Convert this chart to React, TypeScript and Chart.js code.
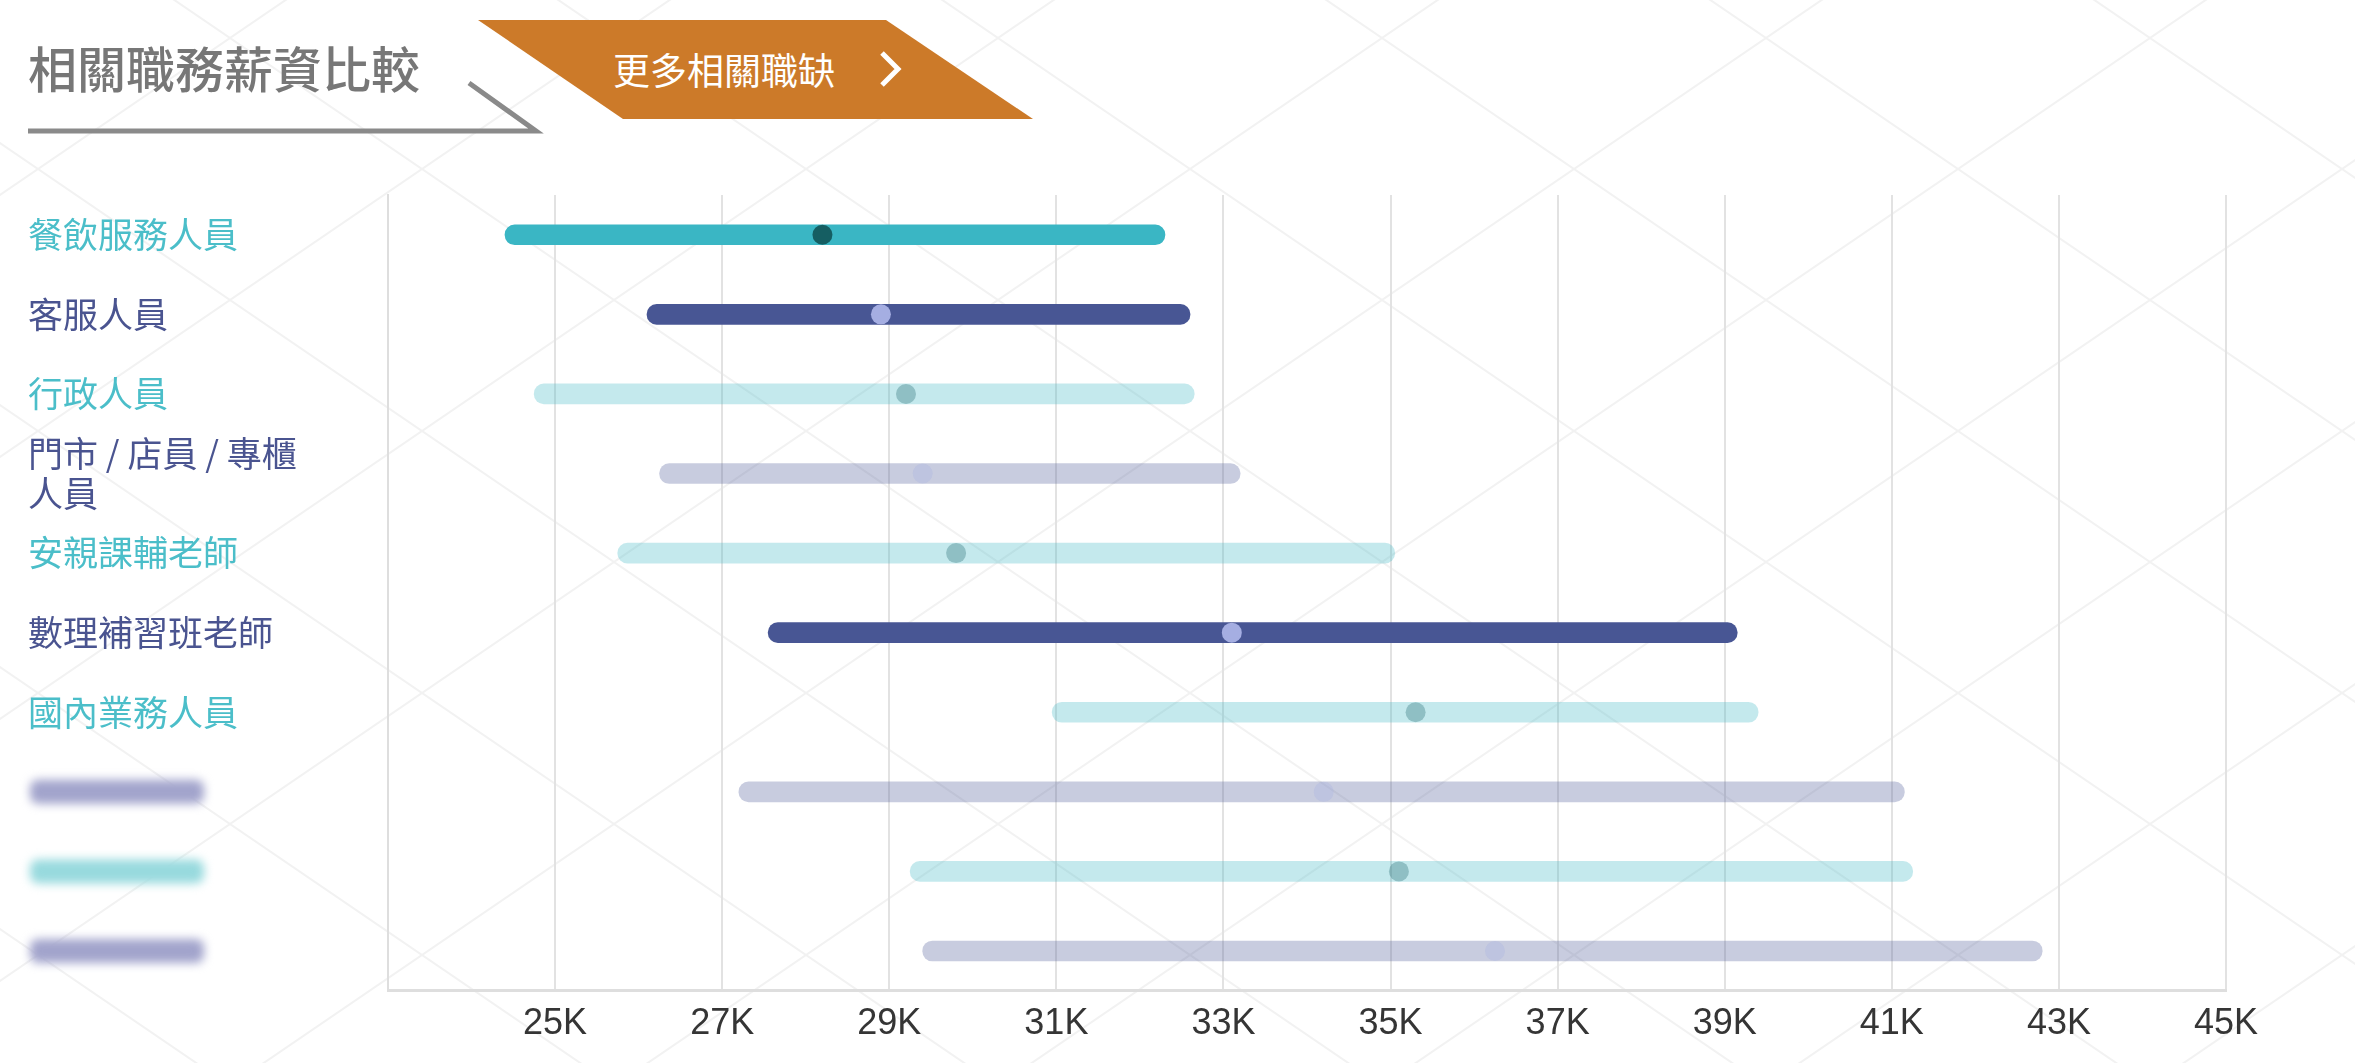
import React, { useEffect, useRef } from 'react';
import { Chart, registerables } from 'chart.js';

Chart.register(...registerables);

// ---- data ----
const categories: (string | string[])[] = [
  '餐飲服務人員',
  '客服人員',
  '行政人員',
  ['門市 / 店員 / 專櫃', '人員'],
  '安親課輔老師',
  '數理補習班老師',
  '國內業務人員',
  '',
  '',
  '',
];
const salaryMin = [24400, 26100, 24750, 26250, 25750, 27550, 30950, 27200, 29250, 29400];
const salaryMax = [32300, 32600, 32650, 33200, 35050, 39150, 39400, 41150, 41250, 42800];
const salaryMedian = [28200, 28900, 29200, 29400, 29800, 33100, 35300, 34200, 35100, 36250];
const highlighted = [true, true, false, false, false, true, false, false, false, false];
const blurredRows = [7, 8, 9];
const xTickValues = [25000, 27000, 29000, 31000, 33000, 35000, 37000, 39000, 41000, 43000, 45000];
const xMin = 23000;
const xMax = 45000;

// ---- styles ----
const CJK = "'Noto Sans CJK TC', 'Noto Sans CJK SC', sans-serif";
const LATIN = "'Liberation Sans', Arial, sans-serif";
const TEAL = [58, 182, 196];
const NAVY = [72, 86, 148];
const TEAL_DOT = [21, 94, 98];
const NAVY_DOT = [165, 174, 226];
const TEAL_TEXT = '#4bbec9';
const NAVY_TEXT = '#4a5490';

const rgba = (c: number[], a: number) => `rgba(${c[0]},${c[1]},${c[2]},${a})`;
const barColors = salaryMin.map((_, i) => rgba(i % 2 === 0 ? TEAL : NAVY, highlighted[i] ? 1 : 0.3));
const dotColors = salaryMin.map((_, i) => rgba(i % 2 === 0 ? TEAL_DOT : NAVY_DOT, highlighted[i] ? 1 : 0.3));

const blurPlugin = {
  id: 'blurLabels',
  afterDraw(chart: any) {
    const ctx = chart.ctx as CanvasRenderingContext2D;
    const y = chart.scales.y;
    ctx.save();
    blurredRows.forEach((r) => {
      const py = y.getPixelForValue(r);
      ctx.filter = 'blur(5px)';
      ctx.fillStyle = r % 2 === 0 ? '#98dade' : '#a2a4cc';
      ctx.beginPath();
      (ctx as any).roundRect(30, py - 12, 174, 24, 8);
      ctx.fill();
    });
    ctx.restore();
  },
};

function Lattice() {
  const s = 262 / 384;
  const lines: JSX.Element[] = [];
  [-1, 0, 1].forEach((m) => {
    lines.push(<line key={'a' + m} x1={-20} y1={-20 * s + 262 * m} x2={404} y2={404 * s + 262 * m} />);
    lines.push(<line key={'b' + m} x1={-20} y1={262 + 20 * s + 262 * m} x2={404} y2={262 - 404 * s + 262 * m} />);
  });
  return (
    <svg width={2355} height={1063} style={{ position: 'absolute', left: 0, top: 0 }}>
      <defs>
        <pattern id="lat" patternUnits="userSpaceOnUse" x={230} y={38} width={384} height={262}>
          <g stroke="#f2f2f2" strokeWidth={2}>{lines}</g>
        </pattern>
      </defs>
      <rect x={0} y={0} width={2355} height={1063} fill="url(#lat)" />
    </svg>
  );
}

function Header() {
  return (
    <svg width={1100} height={150} style={{ position: 'absolute', left: 0, top: 0 }}>
      <text x={28} y={66} dominantBaseline="central" fontFamily={CJK} fontSize={49} fontWeight={500} fill="#777777">
        相關職務薪資比較
      </text>
      <polyline points="28,131 536,131 469,83" fill="none" stroke="#8a8a8a" strokeWidth={5} />
      <polygon points="478,20 886,20 1033,119 623,119" fill="#cc7a29" />
      <text x={613} y={69} dominantBaseline="central" fontFamily={CJK} fontSize={37} fill="#ffffff">
        更多相關職缺
      </text>
      <polyline points="882,53 898,69 882,85" fill="none" stroke="#ffffff" strokeWidth={5} />
    </svg>
  );
}

export default function App() {
  const ref = useRef<HTMLCanvasElement | null>(null);

  useEffect(() => {
    if (!ref.current) return;
    const chart = new Chart(ref.current, {
      type: 'bar',
      data: {
        labels: categories as any,
        datasets: [
          {
            type: 'line',
            label: '中位數',
            indexAxis: 'y',
            data: salaryMedian,
            showLine: false,
            pointRadius: 10,
            pointHoverRadius: 10,
            pointBackgroundColor: dotColors,
            pointBorderWidth: 0,
            order: 0,
          } as any,
          {
            type: 'bar',
            label: '薪資範圍',
            data: salaryMin.map((v, i) => [v, salaryMax[i]]),
            backgroundColor: barColors,
            barThickness: 20,
            borderRadius: 10,
            borderSkipped: false,
            order: 1,
          } as any,
        ],
      },
      options: {
        indexAxis: 'y',
        responsive: false,
        animation: false,
        layout: { padding: { left: 28, top: 45, right: 129, bottom: 5 } },
        plugins: { legend: { display: false }, tooltip: { enabled: false } },
        scales: {
          x: {
            type: 'linear',
            min: xMin,
            max: xMax,
            afterBuildTicks: (s: any) => {
              s.ticks = xTickValues.map((v) => ({ value: v }));
            },
            ticks: {
              callback: (v: any) => `${Number(v) / 1000}K`,
              color: '#353535',
              font: { family: LATIN, size: 36 },
              padding: 12,
              autoSkip: false,
              maxRotation: 0,
            },
            grid: { color: '#e2e2e2', lineWidth: 2, drawTicks: false },
            border: { display: true, color: '#dedede', width: 3 },
          },
          y: {
            type: 'category',
            afterFit: (s: any) => {
              s.width = 360;
            },
            ticks: {
              crossAlign: 'far',
              autoSkip: false,
              color: (c: any) => (c.index % 2 === 0 ? TEAL_TEXT : NAVY_TEXT),
              font: { family: CJK, size: 35, lineHeight: 1.15 },
            },
            grid: { display: false },
            border: { display: true, color: '#dedede', width: 2 },
          },
        },
      } as any,
      plugins: [blurPlugin],
    });
    return () => chart.destroy();
  }, []);

  return (
    <div style={{ position: 'absolute', left: 0, top: 0, width: 2355, height: 1063, background: '#ffffff', overflow: 'hidden' }}>
      <Lattice />
      <Header />
      <canvas
        ref={ref}
        width={2355}
        height={913}
        style={{ position: 'absolute', left: 0, top: 150, width: 2355, height: 913 }}
      />
    </div>
  );
}
